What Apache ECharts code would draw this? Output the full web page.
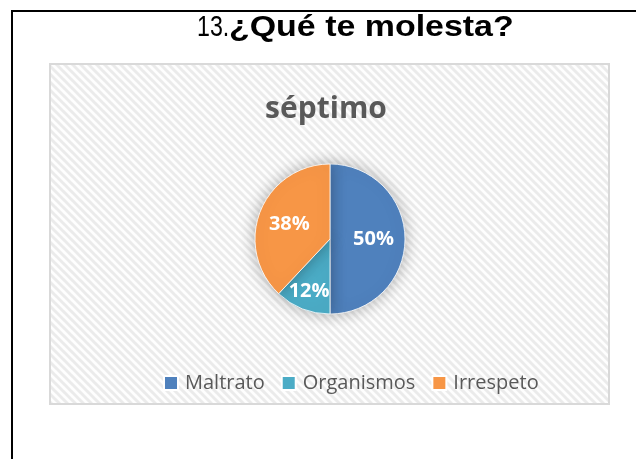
<!DOCTYPE html>
<html>
<head>
<meta charset="utf-8">
<script src="https://cdn.jsdelivr.net/npm/echarts@6/dist/echarts.min.js"></script>
<style>
html,body{margin:0;padding:0;background:#fff;}
#c{width:636px;height:459px;}
</style>
</head>
<body>
<div id="c"></div>
<script>
const categories = ['Maltrato', 'Organismos', 'Irrespeto'];
const values = [50, 12, 38];
const colors = ['#4f81bd', '#4bacc6', '#f79646'];
const chartTitle = 'séptimo';
const pageTitleNum = '13.';
const pageTitleText = '¿Qué te molesta?';

const tile = document.createElement('canvas');
tile.width = 8; tile.height = 8;
const tc = tile.getContext('2d');
tc.fillStyle = '#fefefe';
tc.fillRect(0, 0, 8, 8);
tc.strokeStyle = '#ebebeb';
tc.lineWidth = 3;
for (let k = -1; k <= 1; k++) {
  tc.beginPath();
  tc.moveTo(-1, k * 8 - 1);
  tc.lineTo(9, k * 8 + 9);
  tc.stroke();
}

const chart = echarts.init(document.getElementById('c'), null, {renderer: 'canvas'});
chart.setOption({
  animation: false,
  backgroundColor: '#ffffff',
  graphic: [
    {type: 'rect', z: 0, silent: true,
     shape: {x: 50, y: 64, width: 559, height: 340},
     style: {fill: {image: tile, repeat: 'repeat'}, stroke: '#d9d9d9', lineWidth: 2}},
    {type: 'line', silent: true, shape: {x1: 12, y1: 10, x2: 12, y2: 459},
     style: {stroke: '#000', lineWidth: 2}},
    {type: 'line', silent: true, shape: {x1: 11, y1: 11, x2: 636, y2: 11},
     style: {stroke: '#000', lineWidth: 2}},
    {type: 'text', silent: true, x: 197, y: 28, scaleX: 0.8,
     style: {text: pageTitleNum, font: 'normal 29px "Liberation Sans", Arial, sans-serif',
             fill: '#000', align: 'left', verticalAlign: 'middle'}},
    {type: 'text', silent: true, x: 229, y: 28, scaleX: 1.17,
     style: {text: pageTitleText, font: 'bold 29px "Liberation Sans", Arial, sans-serif',
             fill: '#000', align: 'left', verticalAlign: 'middle'}},
    {type: 'text', silent: true, x: 326, y: 109,
     style: {text: chartTitle, font: 'bold 30px "Open Sans", sans-serif',
             fill: '#595959', align: 'center', verticalAlign: 'middle'}}
  ],
  legend: {
    data: categories,
    left: 158,
    top: 367,
    icon: 'rect',
    itemWidth: 14,
    itemHeight: 14,
    itemGap: 16,
    textStyle: {fontFamily: 'Open Sans', fontSize: 20, color: '#595959', padding: [0, 0, 0, 2], lineHeight: 22}
  },
  series: [{
    type: 'pie',
    center: [330, 239],
    radius: 75,
    startAngle: 90,
    clockwise: true,
    percentPrecision: 0,
    data: categories.map((n, i) => ({name: n, value: values[i], itemStyle: {color: colors[i]}})),
    itemStyle: {borderColor: '#ffffff', borderWidth: 0.8, shadowBlur: 16, shadowColor: 'rgba(0,0,0,0.3)'},
    label: {
      show: true,
      position: 'inside',
      formatter: '{d}%',
      color: '#ffffff',
      fontFamily: 'Open Sans',
      fontWeight: 'bold',
      fontSize: 20
    },
    labelLayout: function (p) {
      if (p.dataIndex === 1) return {dx: -6, dy: 15};
      if (p.dataIndex === 0) return {dx: 3, dy: 0};
      return {dx: -3, dy: 0};
    },
    labelLine: {show: false},
    emphasis: {disabled: true}
  }]
});
</script>
</body>
</html>
